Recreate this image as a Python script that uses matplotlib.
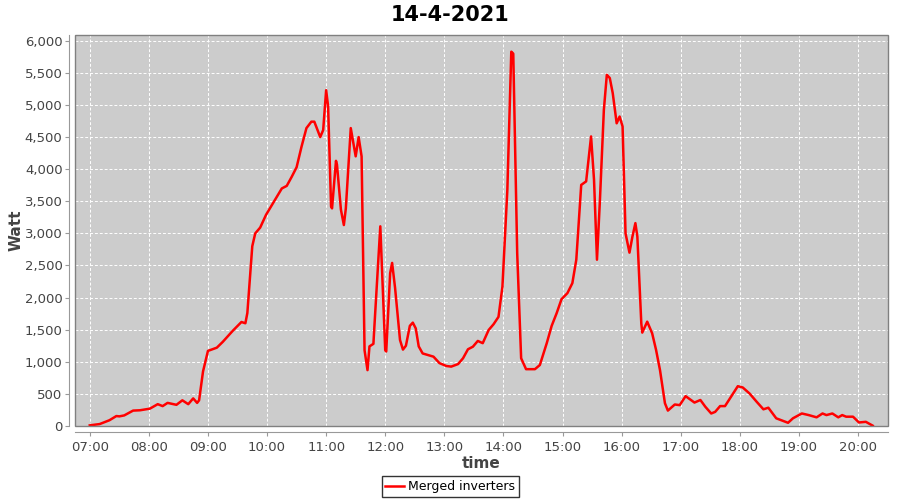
import matplotlib
matplotlib.use("Agg")
import matplotlib.pyplot as plt
from matplotlib.ticker import FuncFormatter, FixedLocator
from matplotlib.patches import Rectangle

title = "14-4-2021"
series_name = "Merged inverters"

# minutes since midnight
minutes = [420, 425, 430, 435, 440, 447, 450, 455, 464, 471, 481, 489, 494, 499, 508, 514, 520, 525, 529, 531,
           535, 540, 549, 555, 565, 574, 578, 580, 585, 588, 593, 599, 610, 615, 620, 625, 630, 635, 640, 645,
           648, 654, 657, 660, 662, 665, 666, 670, 671, 675, 678, 680, 685, 690, 693, 696, 699, 702, 704, 708,
           709, 715, 720, 721, 725, 727, 730, 735, 738, 741, 745, 748, 751, 754, 758, 769, 775, 782, 787, 794,
           799, 804, 809, 814, 819, 825, 830, 835, 839, 844, 848, 850, 854, 858, 863, 872, 877, 884, 889, 894,
           899, 905, 910, 914, 919, 924, 929, 932, 935, 938, 942, 945, 948, 951, 955, 958, 961, 964, 968, 971,
           974, 976, 980, 981, 986, 991, 995, 999, 1004, 1007, 1014, 1019, 1025, 1034, 1040, 1045, 1051, 1055, 1060, 1065,
           1070, 1078, 1083, 1090, 1097, 1104, 1109, 1117, 1124, 1129, 1134, 1143, 1150, 1158, 1164, 1168, 1174, 1180, 1184, 1188,
           1195, 1201, 1208, 1215]
watt = [10, 20, 30, 60, 90, 155, 150, 165, 240, 245, 270, 340, 310, 360, 330, 400, 340, 430, 360, 400,
        850, 1170, 1220, 1310, 1480, 1620, 1600, 1760, 2800, 3000, 3090, 3290, 3570, 3700, 3740, 3880, 4030, 4350, 4640, 4740,
        4740, 4500, 4610, 5230, 4980, 3420, 3390, 4130, 4070, 3370, 3130, 3390, 4640, 4200, 4500, 4200, 1180, 870, 1240, 1280,
        1550, 3110, 1180, 1160, 2380, 2540, 2150, 1340, 1190, 1250, 1560, 1610, 1520, 1240, 1130, 1080, 980, 935, 925, 965,
        1055, 1195, 1235, 1325, 1290, 1495, 1585, 1700, 2170, 3680, 5830, 5800, 2690, 1055, 885, 885, 950, 1290, 1560, 1755,
        1975, 2070, 2225, 2590, 3755, 3810, 4510, 3835, 2590, 3520, 4925, 5470, 5420, 5185, 4715, 4820, 4665, 3000, 2700, 2950,
        3160, 2950, 1600, 1455, 1625, 1445, 1185, 870, 355, 240, 335, 325, 465, 365, 405, 300, 195, 220, 310, 310,
        430, 620, 600, 505, 380, 260, 285, 120, 80, 50, 120, 195, 170, 135, 195, 170, 195, 135, 170, 145,
        145, 55, 65, 5]

hour_ticks = list(range(7, 21))
tick_labels = ["%02d:00" % h for h in hour_ticks]
y_ticks = list(range(0, 6001, 500))

fig = plt.figure(figsize=(9, 5), dpi=100)
ax = fig.add_axes([75/900, 74/500, 813/900, 391/500])
ax.set_facecolor("#cccccc")
ax.plot(minutes, watt, color="#ff0000", lw=1.8, solid_joinstyle="round")

ax.set_xlim(405, 1230.5)
ax.set_ylim(0, 6090)
ax.xaxis.set_major_locator(FixedLocator([h * 60 for h in hour_ticks]))
ax.set_xticklabels(tick_labels)
ax.yaxis.set_major_locator(FixedLocator(y_ticks))
ax.yaxis.set_major_formatter(FuncFormatter(lambda v, p: "{:,}".format(int(v))))

ax.grid(True, color="white", linestyle=(0, (3, 2)), lw=0.7)
ax.set_axisbelow(True)

for s in ax.spines.values():
    s.set_visible(False)
ax.spines["left"].set_visible(True)
ax.spines["bottom"].set_visible(True)
ax.spines["left"].set_position(("outward", 4))
ax.spines["bottom"].set_position(("outward", 4))
ax.spines["left"].set_color("#999999")
ax.spines["bottom"].set_color("#999999")
ax.add_patch(Rectangle((0, 0), 1, 1, transform=ax.transAxes, fill=False,
                       ec="#808080", lw=1.0, zorder=5, clip_on=False))

ax.tick_params(axis="both", colors="#999999", labelcolor="#444444", labelsize=9.5, length=3, width=0.8)
ax.tick_params(axis="y", pad=2)

ax.set_xlabel("time", fontsize=11, fontweight="bold", color="#444444", labelpad=2)
ax.set_ylabel("Watt", fontsize=11, fontweight="bold", color="#444444", labelpad=1)
fig.suptitle(title, fontsize=15, fontweight="bold", y=0.99)

leg = fig.legend([ax.lines[0]], [series_name], loc="lower center", bbox_to_anchor=(0.5, -0.006),
                 fontsize=9, frameon=True, fancybox=False, handlelength=1.5, handletextpad=0.3,
                 borderpad=0.3)
leg.get_frame().set_edgecolor("black")
leg.get_frame().set_linewidth(1.0)

fig.savefig("out.png", dpi=100)
